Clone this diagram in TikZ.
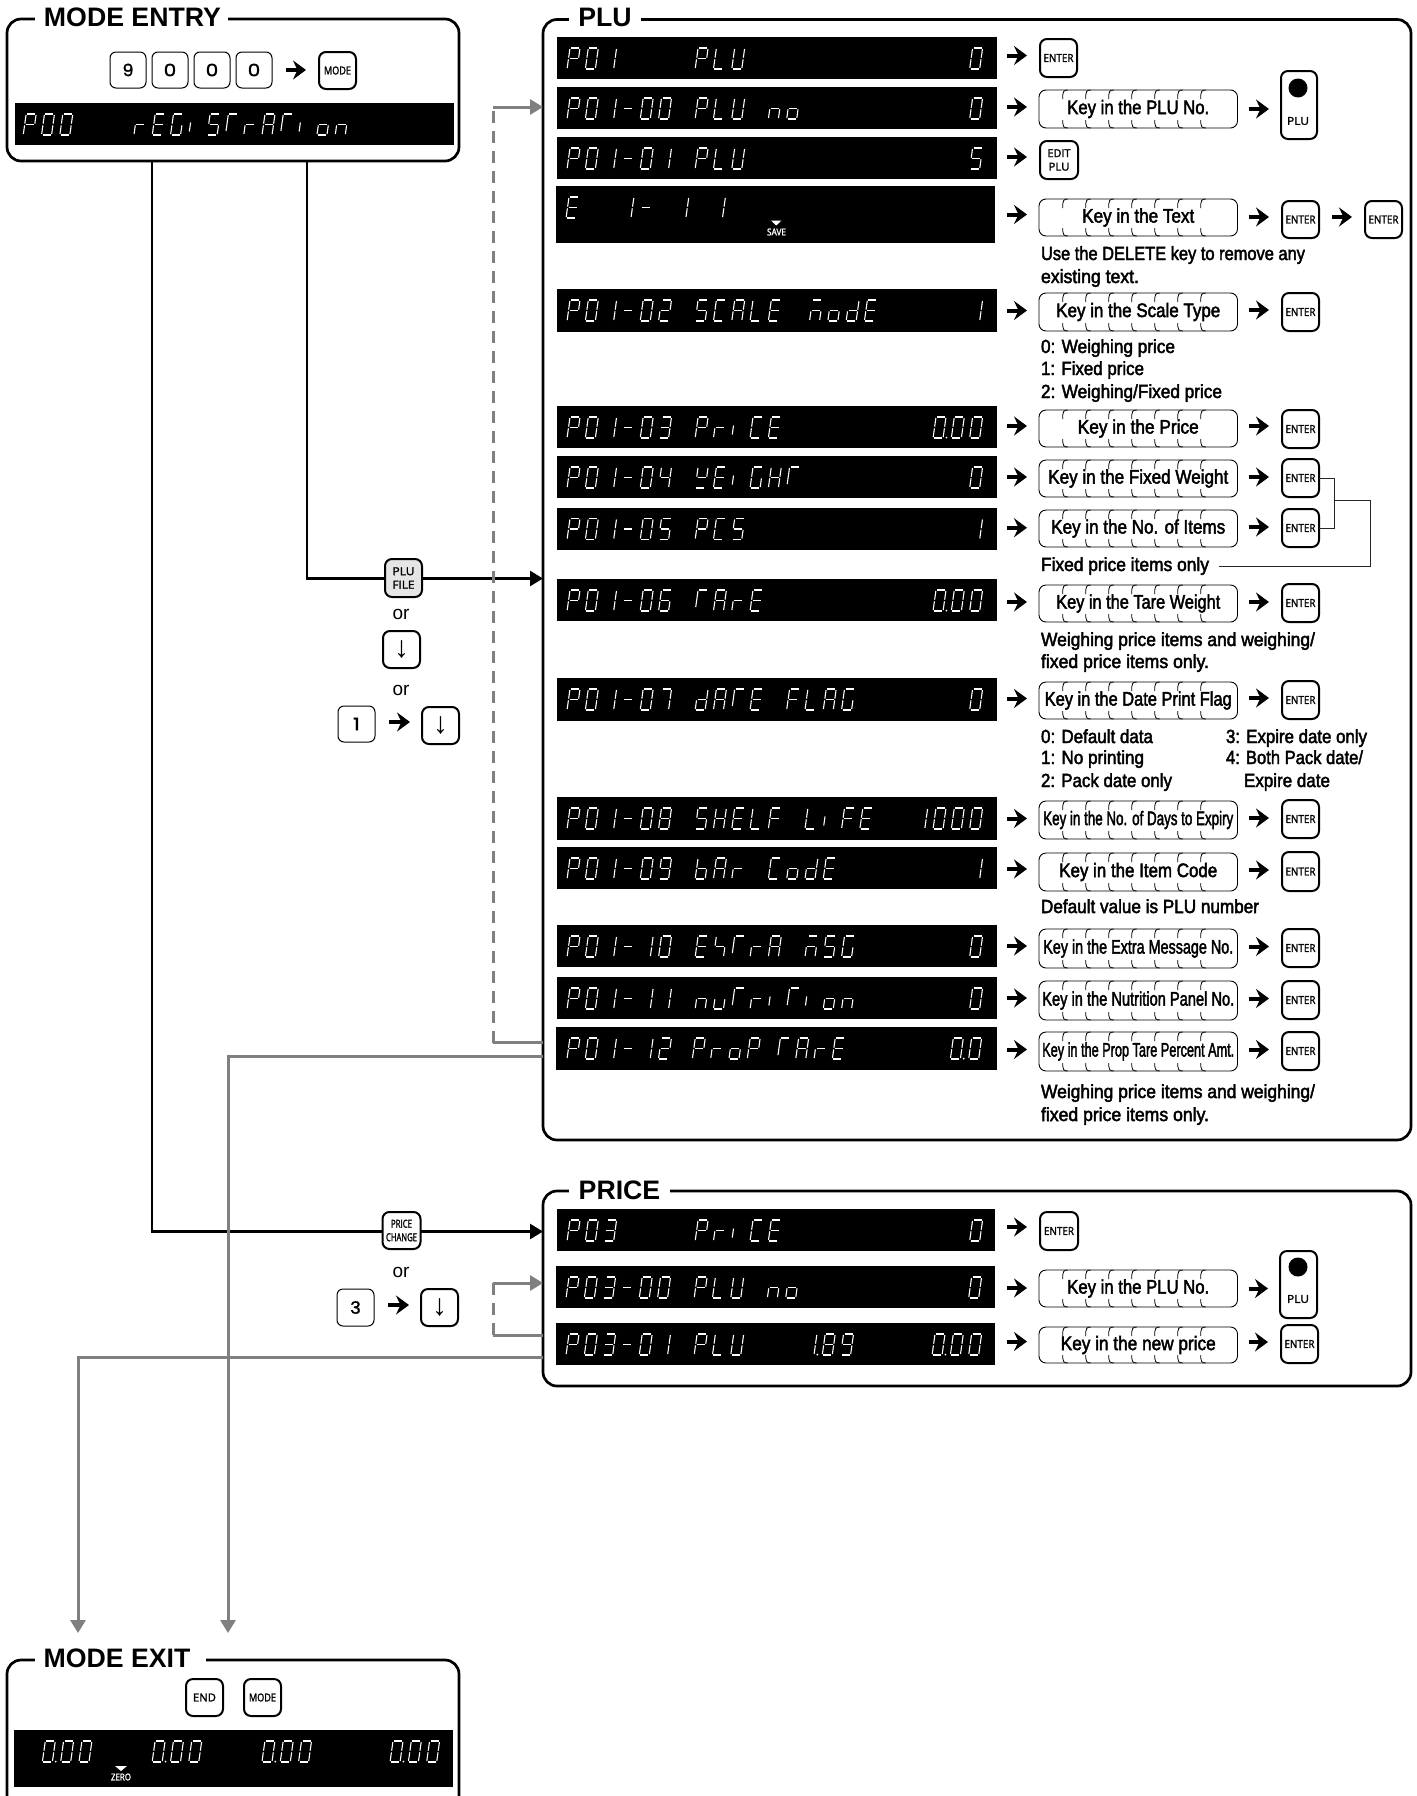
\documentclass[tikz,border=0pt]{standalone}
\usepackage{fontspec}
\usepackage{graphicx}
\usetikzlibrary{arrows.meta}
\setmainfont{Liberation Sans}
\newfontfamily\nf[FakeBold=2.5]{Liberation Sans}
\newfontfamily\kf[FakeBold=2]{Open Sans}
\newfontfamily\df[FakeBold=1.5]{Poppins}
\newfontfamily\lcdf{Liberation Mono}
\newcounter{lcdw}
\newsavebox\fitbox
\newcommand\fitw[2]{\sbox\fitbox{#2}\pgfmathsetmacro\fitr{#1/\the\wd\fitbox}\scalebox{\fitr}[1]{\usebox\fitbox}}
\tikzset{
  framebox/.style={draw,rounded corners=14pt,line width=2.7pt,inner sep=0,outer sep=0},
  titletxt/.style={fill=white,inner sep=0,outer sep=0,font=\bfseries\fontsize{26.7}{27}\selectfont},
  lcdbox/.style={fill=black,inner sep=0,outer sep=0},
  lcdline/.style={draw=white,line width=1.1pt},
  lcdreal/.style={anchor=base west,inner sep=0,outer sep=0,text opacity=0,font=\lcdf\fontsize{30.5}{30.5}\selectfont},
  thinkey/.style={draw,fill=white,rounded corners=6pt,line width=1pt,inner sep=0,outer sep=0,align=center},
  thickkey/.style={draw,fill=white,rounded corners=7pt,line width=2pt,inner sep=0,outer sep=0,align=center},
  digit/.style={font=\df\fontsize{17}{17}\selectfont},
  smallkey/.style={font=\kf\fontsize{11}{14}\selectfont,text=black},
  arrowkey/.style={font=\fontsize{30}{30}\selectfont},
  keyinbox/.style={draw,fill=white,rounded corners=7pt,line width=.9pt,inner sep=0,outer sep=0,font=\nf\fontsize{19.5}{19.5}\selectfont},
  tick/.style={line width=.8pt},
  notetxt/.style={anchor=base west,inner sep=0,outer sep=0,font=\nf\fontsize{19}{19}\selectfont},
  ortxt/.style={inner sep=0,font=\fontsize{19}{19}\selectfont},
  lcdsmall/.style={inner sep=0,text=white,font=\kf\fontsize{9.5}{9.5}\selectfont},
  bigarrow/.style={line width=4pt,-{Stealth[length=13pt,width=19pt,inset=4.5pt]}},
  mainline/.style={line width=2.5pt,line cap=rect},
  maintip/.style={-{Triangle[length=13pt,width=15pt]}},
  grayline/.style={draw=black!50,line width=3pt},
  graydash/.style={grayline,dash pattern=on 12pt off 8pt},
  graytip/.style={-{Triangle[length=13pt,width=15pt]}},
  bracketline/.style={line width=.9pt,draw=black!85},
}
\newcommand\bx[7]{\pgfmathsetmacro\bxc{(#2+#4)/2}\pgfmathsetmacro\byc{(#3+#5)/2}\pgfmathsetmacro\bxw{#4-#2}\pgfmathsetmacro\bxh{#5-#3}%
  \node[#6,minimum width=\bxw pt,minimum height=\bxh pt] (#1) at (\bxc,\byc) {#7};}
% seven-segment display lettering: the segments are drawn; each word is also
% set as real (selectable, fully transparent) text at the same place
\newcommand\lcdA{\draw[lcdline] (1,0)--(9,0);}
\newcommand\lcdB{\draw[lcdline] (10,1)--(10,9.7);}
\newcommand\lcdC{\draw[lcdline] (10,11.3)--(10,20);}
\newcommand\lcdD{\draw[lcdline] (1,21)--(9,21);}
\newcommand\lcdE{\draw[lcdline] (0,11.3)--(0,20);}
\newcommand\lcdF{\draw[lcdline] (0,1)--(0,9.7);}
\newcommand\lcdG{\draw[lcdline] (1,10.5)--(9,10.5);}
\newcommand\lcdT{\draw[lcdline] (0,1)--(0,17);}
\newcommand\lcdI{\draw[lcdline] (0,8.5)--(0,17.5);}
\makeatletter
\def\lcddef#1#2{\expandafter\def\csname lcd@#1\endcsname{#2}}
\lcddef{0}{\lcdA\lcdB\lcdC\lcdD\lcdE\lcdF}
\lcddef{1}{\lcdB\lcdC}
\lcddef{2}{\lcdA\lcdB\lcdG\lcdE\lcdD}
\lcddef{3}{\lcdA\lcdB\lcdG\lcdC\lcdD}
\lcddef{4}{\lcdF\lcdG\lcdB\lcdC}
\lcddef{5}{\lcdA\lcdF\lcdG\lcdC\lcdD}
\lcddef{6}{\lcdA\lcdF\lcdG\lcdE\lcdC\lcdD}
\lcddef{7}{\lcdA\lcdB\lcdC}
\lcddef{8}{\lcdA\lcdB\lcdC\lcdD\lcdE\lcdF\lcdG}
\lcddef{9}{\lcdA\lcdB\lcdC\lcdD\lcdF\lcdG}
\lcddef{-}{\lcdG}
\lcddef{A}{\lcdA\lcdB\lcdC\lcdE\lcdF\lcdG}
\lcddef{C}{\lcdA\lcdF\lcdE\lcdD}
\lcddef{E}{\lcdA\lcdF\lcdG\lcdE\lcdD}
\lcddef{F}{\lcdA\lcdF\lcdG\lcdE}
\lcddef{G}{\lcdA\lcdF\lcdE\lcdD\lcdC}
\lcddef{H}{\lcdB\lcdC\lcdE\lcdF\lcdG}
\lcddef{I}{\lcdI}
\lcddef{L}{\lcdF\lcdE\lcdD}
\lcddef{M}{\lcdA\lcdG\lcdE\lcdC}
\lcddef{P}{\lcdA\lcdB\lcdE\lcdF\lcdG}
\lcddef{S}{\lcdA\lcdF\lcdG\lcdC\lcdD}
\lcddef{T}{\lcdA\lcdT}
\lcddef{U}{\lcdB\lcdC\lcdD\lcdE\lcdF}
\lcddef{W}{\lcdF\lcdB\lcdG\lcdD}
\lcddef{X}{\lcdF\lcdG\lcdC}
\lcddef{b}{\lcdF\lcdE\lcdD\lcdC\lcdG}
\lcddef{d}{\lcdB\lcdC\lcdD\lcdE\lcdG}
\lcddef{n}{\lcdE\lcdG\lcdC}
\lcddef{o}{\lcdC\lcdD\lcdE\lcdG}
\lcddef{r}{\lcdE\lcdG}
\lcddef{u}{\lcdE\lcdD\lcdC}
\def\lcddot{.}
\newcommand\lcd[3]{\pgfmathsetmacro\lcdx{13+#2*18.3}%
  \pgfmathsetmacro\lcdstart{\lcdx-3}%
  \stepcounter{lcdw}%
  \node[lcdreal] (lcdw\arabic{lcdw}) at ([shift={(\lcdstart,32)}]#1.north west) {#3};%
  \@tfor\lcdc:=#3\do{%
    \ifx\lcdc\lcddot
      \begin{scope}[shift={(#1.north west)},shift={(\lcdx,11)},xslant=0.14]
        \fill[white] (-5,20.6) circle (1pt);
      \end{scope}%
    \else
      \begin{scope}[shift={(#1.north west)},shift={(\lcdx,11)},xslant=0.14]
        \csname lcd@\lcdc\endcsname
      \end{scope}%
      \pgfmathsetmacro\lcdx{\lcdx+18.3}%
    \fi}}
\makeatother
\newcommand\keyin[5]{\bx{#1}{1039}{#2}{1237.5}{#3}{keyinbox}{\raisebox{-2.5pt}{\fitw{#4}{#5}}}%
  \foreach \i in {1,...,7}{\pgfmathsetmacro\tx{\i*23+.7}%
    \draw[tick] ([xshift=\tx pt]#1.north west) ++(5,0) .. controls +(-4,0) and +(0,-3) .. ++(-5,5) -- ++(0,4);
    \draw[tick] ([xshift=\tx pt]#1.south west) ++(5,0) .. controls +(-4,0) and +(0,3) .. ++(-5,-5) -- ++(0,-3);}}
\newcommand\bigar[5]{\coordinate (tmpa) at ([shift={(#2,#3)}]#1.east);
  \draw[bigarrow] (tmpa) -- ([xshift=#5 pt]tmpa -| #4.west);}
\newcommand\enterkey[5]{\bx{#1}{#2}{#3}{#4}{#5}{thickkey,smallkey}{\fitw{30}{ENTER}}}
\begin{document}
\begin{tikzpicture}[x=1pt,y=-1pt]
\path[use as bounding box,clip] (0,0) rectangle (1416,1796);
\fill[white] (0,0) rectangle (1416,1796);

% ---------- frames
\bx{entrybox}{7}{19}{459}{161}{framebox}{}
\bx{plubox}{543}{19.5}{1411}{1140}{framebox}{}
\bx{pricebox}{543}{1191}{1411}{1386}{framebox}{}
\bx{exitbox}{7}{1660}{459}{1830}{framebox}{}
\node[titletxt,minimum width=193pt] (t1) at (131.5,17) {\kern2pt MODE ENTRY};
\node[titletxt,minimum width=72pt] (t2) at (604.5,17) {\kern1pt PLU};
\node[titletxt,minimum width=101pt] (t3) at (619.5,1190) {PRICE};
\node[titletxt,minimum width=171pt] (t4) at (120.5,1658) {MODE EXIT\kern7pt\relax};

% ---------- connectors
\coordinate (cPrice) at (152,1231.5);
\coordinate (cPlu) at (307,578.5);
\draw[mainline,maintip] (entrybox.south -| cPrice) -- (cPrice) -- (pricebox.west |- cPrice);
\draw[mainline,maintip] (entrybox.south -| cPlu) -- (cPlu) -- (plubox.west |- cPlu);
\coordinate (dTop) at (493,107);
\coordinate (dBot) at (493,1042.5);
\draw[grayline] (plubox.west |- dBot) -- (dBot);
\draw[graydash] (dBot) -- (dTop);
\draw[grayline,graytip] (dTop) -- (plubox.west |- dTop);
\coordinate (pTop) at (493,1283);
\coordinate (pBot) at (493,1335);
\draw[grayline] (pricebox.west |- pBot) -- (pBot);
\draw[graydash] (pBot) -- (pTop);
\draw[grayline,graytip] (pTop) -- (pricebox.west |- pTop);
\coordinate (exA) at (228,1633);
\coordinate (exB) at (78,1633);
\coordinate (exAy) at (228,1056);
\coordinate (exBy) at (78,1357);
\draw[grayline,graytip] (plubox.west |- exAy) -- (exAy) -- (exA);
\draw[grayline,graytip] (pricebox.west |- exBy) -- (exBy) -- (exB);

% ---------- mode entry
\bx{k9}{110}{52}{146}{88}{thinkey,digit}{\fitw{11}{9}}
\bx{k0a}{152}{52}{188}{88}{thinkey,digit}{\fitw{12.5}{0}}
\bx{k0b}{194}{52}{230}{88}{thinkey,digit}{\fitw{12.5}{0}}
\bx{k0c}{236}{52}{272}{88}{thinkey,digit}{\fitw{12.5}{0}}
\bx{kmode}{319}{52}{356}{89}{thickkey,smallkey}{\fitw{27}{MODE}}
\bigar{k0c}{13.7}{0}{kmode}{-13}
\bx{d0}{15}{103}{454}{145}{lcdbox}{}
\lcd{d0}{-.1}{P00}
\lcd{d0}{5.95}{rEGISTrATIon}

% ---------- left key stacks
\bx{kfile}{385}{559}{422}{597}{thickkey,smallkey,fill=black!10}{\fitw{22}{PLU}\\[-.5pt]\fitw{22}{FILE}}
\node[ortxt] (or1) at (401,614) {or};
\bx{kdn1}{383}{631}{420}{668}{thickkey,arrowkey}{↓}
\node[ortxt] (or2) at (401,690) {or};
\bx{k1}{338}{706}{375}{742}{thinkey,digit}{\fitw{7}{1}}
\bx{kdn2}{422}{707}{459}{744}{thickkey,arrowkey}{↓}
\bigar{k1}{14}{-2}{kdn2}{-12}
\bx{kchg}{382.5}{1212}{420.5}{1249}{thickkey,smallkey}{\fitw{21}{PRICE}\\[-.5pt]\fitw{31}{CHANGE}}
\node[ortxt] (or3) at (401,1272) {or};
\bx{k3}{337}{1289}{374}{1326}{thinkey,digit}{\fitw{10.7}{3}}
\bx{kdn3}{421}{1289}{458}{1326}{thickkey,arrowkey}{↓}
\bigar{k3}{14}{-2.5}{kdn3}{-12}

% ---------- PLU displays
\bx{d1}{557}{37}{997}{79}{lcdbox}{}
\lcd{d1}{0}{P01}\lcd{d1}{7}{PLU}\lcd{d1}{22}{0}
\bx{d2}{557}{87}{997}{129}{lcdbox}{}
\lcd{d2}{0}{P01-00}\lcd{d2}{7}{PLU}\lcd{d2}{11}{no}\lcd{d2}{22}{0}
\bx{d3}{557}{137}{997}{179}{lcdbox}{}
\lcd{d3}{0}{P01-01}\lcd{d3}{7}{PLU}\lcd{d3}{22}{5}
\bx{d4}{556}{186}{995}{243}{lcdbox}{}
\lcd{d4}{0}{E}\lcd{d4}{3}{1-}\lcd{d4}{6}{1}\lcd{d4}{8}{1}
\fill[white] (771,220.5) -- (781.5,220.5) -- (776.2,225.5) -- cycle;
\node[lcdsmall] (save) at (776.5,232) {\fitw{19}{SAVE}};
\bx{d5}{557}{289}{997}{332}{lcdbox}{}
\lcd{d5}{0}{P01-02}\lcd{d5}{7}{SCALE}\lcd{d5}{13.25}{ModE}\lcd{d5}{22}{1}
\bx{d6}{557}{406}{997}{448}{lcdbox}{}
\lcd{d6}{0}{P01-03}\lcd{d6}{7}{PrICE}\lcd{d6}{20}{0.00}
\bx{d7}{557}{456}{997}{498}{lcdbox}{}
\lcd{d7}{0}{P01-04}\lcd{d7}{7}{WEIGHT}\lcd{d7}{22}{0}
\bx{d8}{557}{507.5}{997}{550}{lcdbox}{}
\lcd{d8}{0}{P01-05}\lcd{d8}{7}{PCS}\lcd{d8}{22}{1}
\bx{d9}{557}{579}{997}{621}{lcdbox}{}
\lcd{d9}{0}{P01-06}\lcd{d9}{7}{TArE}\lcd{d9}{20}{0.00}
\bx{d10}{557}{678}{997}{721}{lcdbox}{}
\lcd{d10}{0}{P01-07}\lcd{d10}{7}{dATE}\lcd{d10}{12}{FLAG}\lcd{d10}{22}{0}
\bx{d11}{557}{797}{997}{840}{lcdbox}{}
\lcd{d11}{0}{P01-08}\lcd{d11}{7}{SHELF}\lcd{d11}{13}{LIFE}\lcd{d11}{19}{1000}
\bx{d12}{557}{847}{997}{889}{lcdbox}{}
\lcd{d12}{0}{P01-09}\lcd{d12}{7}{bAr}\lcd{d12}{11}{CodE}\lcd{d12}{22}{1}
\bx{d13}{557}{925}{997}{967}{lcdbox}{}
\lcd{d13}{0}{P01-10}\lcd{d13}{7}{EXTrA}\lcd{d13}{13}{MSG}\lcd{d13}{22}{0}
\bx{d14}{557}{977}{997}{1019}{lcdbox}{}
\lcd{d14}{0}{P01-11}\lcd{d14}{7}{nuTrITIon}\lcd{d14}{22}{0}
\bx{d15}{556}{1027}{997}{1070}{lcdbox}{}
\lcd{d15}{0.05}{P01-12}\lcd{d15}{6.9}{ProP}\lcd{d15}{11.55}{TArE}\lcd{d15}{21}{0.0}

% ---------- PLU first keys
\enterkey{e1}{1040}{39}{1077}{77}
\bigar{d1}{10}{-2.5}{e1}{-13}
\keyin{ki2}{90}{128}{142}{Key in the PLU No.}
\bigar{d2}{10}{-1}{ki2}{-12}
\bx{kplu}{1281}{71}{1317}{139}{thickkey,smallkey}{}
\fill (1298,88) circle (9.5pt);
\node[smallkey,inner sep=0] (kplulab) at (1298,121) {\fitw{22}{PLU}};
\bigar{ki2}{11}{0}{kplu}{-12}
\bx{kedit}{1040}{141}{1078}{179}{thickkey,smallkey}{\fitw{23}{EDIT}\\[-.5pt]\fitw{21}{PLU}}
\bigar{d3}{10}{-1}{kedit}{-13}
\keyin{ki4}{199}{236}{112}{Key in the Text}
\bigar{d4}{12}{0}{ki4}{-12}
\enterkey{e4a}{1282}{201}{1319}{238}
\bigar{ki4}{11}{-0.5}{e4a}{-13}
\enterkey{e4b}{1365}{201}{1402}{238}
\bigar{e4a}{13}{-2.5}{e4b}{-13}
\node[notetxt] (n1) at (1041,260) {\fitw{264}{Use the DELETE key to remove any}};
\node[notetxt] (n2) at (1041,283) {\fitw{98}{existing text.}};

\keyin{ki5}{293}{331}{164}{Key in the Scale Type}
\bigar{d5}{10}{0}{ki5}{-12}
\enterkey{e5}{1282}{293}{1319}{331}
\bigar{ki5}{11}{-2}{e5}{-13}
\node[notetxt] (n3) at (1041,353) {\fitw{134}{0: Weighing price}};
\node[notetxt] (n4) at (1041,375) {\fitw{103}{1: Fixed price}};
\node[notetxt] (n5) at (1041,398) {\fitw{181}{2: Weighing/Fixed price}};

\keyin{ki6}{410}{447}{121}{Key in the Price}
\bigar{d6}{10}{-1}{ki6}{-12}
\enterkey{e6}{1282}{410}{1319}{448}
\bigar{ki6}{11}{-2.5}{e6}{-13}

\keyin{ki7}{460}{497}{180}{Key in the Fixed Weight}
\bigar{d7}{10}{0}{ki7}{-12}
\enterkey{e7}{1282}{459}{1319}{497}
\bigar{ki7}{11}{-1.5}{e7}{-13}
\keyin{ki8}{510}{547}{174}{Key in the No. of Items}
\bigar{d8}{10}{-1}{ki8}{-12}
\enterkey{e8}{1282}{509}{1319}{547}
\bigar{ki8}{11}{-1.5}{e8}{-13}
\node[notetxt] (n6) at (1041,571) {\fitw{168}{Fixed price items only}};
\coordinate (brM) at (1334,500);
\coordinate (brE) at (1370,566);
\draw[bracketline] (e7.east) -| (brM) |- (e8.east);
\draw[bracketline] (brM) -| (brE) -- ([xshift=10pt]n6.east |- brE);

\keyin{ki9}{585}{622}{164}{Key in the Tare Weight}
\bigar{d9}{10}{2}{ki9}{-12}
\enterkey{e9}{1282}{584}{1319}{622}
\bigar{ki9}{11}{-1.5}{e9}{-13}
\node[notetxt] (n7) at (1041,646) {\fitw{274}{Weighing price items and weighing/}};
\node[notetxt] (n8) at (1041,668) {\fitw{168}{fixed price items only.}};

\keyin{ki10}{682}{719}{187}{Key in the Date Print Flag}
\bigar{d10}{10}{-1}{ki10}{-12}
\enterkey{e10}{1282}{681}{1319}{719}
\bigar{ki10}{11}{-2.5}{e10}{-13}
\node[notetxt] (n9) at (1041,743) {\fitw{112}{0: Default data}};
\node[notetxt] (n10) at (1041,764) {\fitw{103}{1: No printing}};
\node[notetxt] (n11) at (1041,787) {\fitw{131}{2: Pack date only}};
\node[notetxt] (n12) at (1226,743) {\fitw{141}{3: Expire date only}};
\node[notetxt] (n13) at (1226,764) {\fitw{137}{4: Both Pack date/}};
\node[notetxt] (n14) at (1244,787) {\fitw{86}{Expire date}};

\keyin{ki11}{801}{839}{190}{Key in the No. of Days to Expiry}
\bigar{d11}{10}{0}{ki11}{-12}
\enterkey{e11}{1282}{800}{1319}{838}
\bigar{ki11}{11}{-2}{e11}{-13}
\keyin{ki12}{853}{891}{158}{Key in the Item Code}
\bigar{d12}{10}{1}{ki12}{-12}
\enterkey{e12}{1282}{852}{1319}{891}
\bigar{ki12}{11}{-2}{e12}{-13}
\node[notetxt] (n15) at (1041,913) {\fitw{218}{Default value is PLU number}};

\keyin{ki13}{929}{968}{190}{Key in the Extra Message No.}
\bigar{d13}{10}{0}{ki13}{-12}
\enterkey{e13}{1282}{929}{1319}{967}
\bigar{ki13}{11}{-2}{e13}{-13}
\keyin{ki14}{981}{1020}{192}{Key in the Nutrition Panel No.}
\bigar{d14}{10}{0}{ki14}{-12}
\enterkey{e14}{1282}{981}{1319}{1019}
\bigar{ki14}{11}{-2}{e14}{-13}
\keyin{ki15}{1032}{1071}{192}{Key in the Prop Tare Percent Amt.}
\bigar{d15}{10}{1}{ki15}{-12}
\enterkey{e15}{1282}{1032}{1319}{1070}
\bigar{ki15}{11}{-2}{e15}{-13}
\node[notetxt] (n16) at (1041,1098) {\fitw{274}{Weighing price items and weighing/}};
\node[notetxt] (n17) at (1041,1121) {\fitw{168}{fixed price items only.}};

% ---------- PRICE
\bx{p1}{557}{1209}{995}{1251}{lcdbox}{}
\lcd{p1}{0}{P03}\lcd{p1}{7}{PrICE}\lcd{p1}{22}{0}
\bx{p2}{556}{1266}{995}{1308}{lcdbox}{}
\lcd{p2}{0}{P03-00}\lcd{p2}{7}{PLU}\lcd{p2}{11}{no}\lcd{p2}{22}{0}
\bx{p3}{556}{1323}{995}{1365}{lcdbox}{}
\lcd{p3}{0}{P03-01}\lcd{p3}{7}{PLU}\lcd{p3}{13}{1.89}\lcd{p3}{20}{0.00}
\enterkey{ep1}{1040}{1212}{1078}{1250}
\bigar{p1}{12}{-3}{ep1}{-13}
\keyin{kp2}{1270}{1307}{142}{Key in the PLU No.}
\bigar{p2}{12}{1}{kp2}{-12}
\bx{kpl}{1280}{1251}{1317}{1318}{thickkey,smallkey}{}
\fill (1298,1267) circle (9.5pt);
\node[smallkey,inner sep=0] (kpllab) at (1298,1299) {\fitw{22}{PLU}};
\bigar{kp2}{11}{0}{kpl}{-12}
\keyin{kp3}{1327}{1363}{155}{Key in the new price}
\bigar{p3}{12}{-2.5}{kp3}{-12}
\enterkey{ep3}{1281}{1325}{1318}{1363}
\bigar{kp3}{11}{-3}{ep3}{-13}

% ---------- mode exit
\bx{kend}{186}{1679}{223}{1716}{thickkey,smallkey}{\fitw{23}{END}}
\bx{kmode2}{244}{1679}{281}{1716}{thickkey,smallkey}{\fitw{27}{MODE}}
\bx{dx}{14}{1730}{453}{1787}{lcdbox}{}
\lcd{dx}{1}{0.00}\lcd{dx}{7}{0.00}\lcd{dx}{13}{0.00}\lcd{dx}{20}{0.00}
\fill[white] (115,1766) -- (127,1766) -- (121,1771) -- cycle;
\node[lcdsmall] (zero) at (121,1777) {\fitw{20}{ZERO}};
\end{tikzpicture}
\end{document}
